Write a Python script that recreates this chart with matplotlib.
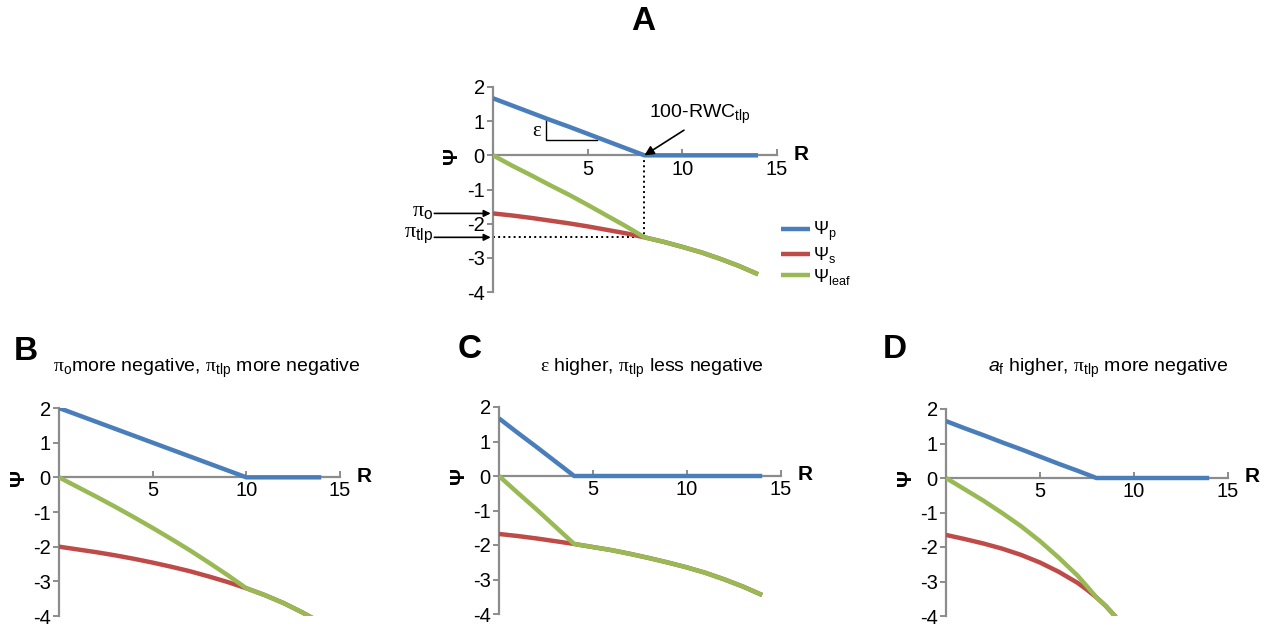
import matplotlib
matplotlib.use('Agg')
import matplotlib.pyplot as plt
from matplotlib import transforms

plt.rcParams['font.family'] = ['Liberation Sans', 'DejaVu Sans']
plt.rcParams['mathtext.fontset'] = 'custom'
plt.rcParams['mathtext.rm'] = 'Liberation Serif'
plt.rcParams['mathtext.sf'] = 'Liberation Sans'
plt.rcParams['mathtext.it'] = 'Liberation Sans:italic'
plt.rcParams['axes.unicode_minus'] = False

# R = 100 - RWC
r = [0, 1, 2, 3, 4, 5, 6, 7, 8, 9, 10, 11, 12, 13, 14]

# panel A
psi_p_a = [1.67, 1.46, 1.25, 1.04, 0.84, 0.63, 0.42, 0.21, 0.0, 0, 0, 0, 0, 0, 0]
psi_s_a = [-1.70, -1.76, -1.83, -1.91, -1.99, -2.08, -2.18, -2.28, -2.40, -2.53, -2.68, -2.84, -3.03, -3.24, -3.48]
psi_leaf_a = [0.0, -0.30, -0.58, -0.87, -1.15, -1.45, -1.76, -2.07, -2.40, -2.53, -2.68, -2.84, -3.03, -3.24, -3.48]
r_tlp_a = 8
pi_o_a = -1.70
pi_tlp_a = -2.40

# panel B
psi_p_b = [2.0, 1.8, 1.6, 1.4, 1.2, 1.0, 0.8, 0.6, 0.4, 0.2, 0.0, 0, 0, 0, 0]
psi_s_b = [-2.00, -2.08, -2.16, -2.25, -2.35, -2.46, -2.58, -2.71, -2.86, -3.02, -3.20, -3.40, -3.63, -3.90, -4.20]
psi_leaf_b = [0.0, -0.28, -0.56, -0.85, -1.15, -1.46, -1.78, -2.11, -2.46, -2.82, -3.20, -3.40, -3.63, -3.90, -4.20]

# panel C
psi_p_c = [1.67, 1.25, 0.84, 0.42, 0.0, 0, 0, 0, 0, 0, 0, 0, 0, 0, 0]
psi_s_c = [-1.68, -1.74, -1.81, -1.89, -1.97, -2.06, -2.15, -2.26, -2.38, -2.51, -2.65, -2.81, -3.00, -3.21, -3.45]
psi_leaf_c = [0.0, -0.49, -0.97, -1.47, -1.97, -2.06, -2.15, -2.26, -2.38, -2.51, -2.65, -2.81, -3.00, -3.21, -3.45]

# panel D
psi_p_d = [1.65, 1.44, 1.24, 1.03, 0.83, 0.62, 0.41, 0.21, 0.0, 0, 0, 0, 0, 0, 0]
r_d = [0, 1, 2, 3, 4, 5, 6, 7, 7.5, 8, 8.5, 9, 10]
psi_s_d = [-1.65, -1.77, -1.90, -2.05, -2.23, -2.45, -2.72, -3.04, -3.24, -3.46, -3.71, -4.01, -4.76]
psi_leaf_d = [0.0, -0.33, -0.66, -1.02, -1.40, -1.83, -2.31, -2.83, -3.14, -3.46, -3.71, -4.01, -4.76]

blue = '#4A7EBB'
red = '#BE4B48'
green = '#98B954'
grey = '#8C8C8C'

fig = plt.figure(figsize=(12.7, 6.29), dpi=100)

W, H = 1270.0, 629.0
def add_ax(x0, x1, ytop, ybot):
    return fig.add_axes([x0 / W, 1 - ybot / H, (x1 - x0) / W, (ybot - ytop) / H])

ax_a = add_ax(493, 777, 87, 292)
ax_b = add_ax(59, 340, 408, 616)
ax_c = add_ax(499, 781, 407, 614)
ax_d = add_ax(946, 1228, 409, 616)

def style(ax):
    ax.set_xlim(0, 15)
    ax.set_ylim(-4, 2)
    ax.spines['top'].set_visible(False)
    ax.spines['right'].set_visible(False)
    ax.spines['bottom'].set_position(('data', 0))
    for s in ['left', 'bottom']:
        ax.spines[s].set_color(grey)
        ax.spines[s].set_linewidth(1.6)
    ax.set_xticks([5, 10, 15])
    ax.set_yticks([-4, -3, -2, -1, 0, 1, 2])
    ax.tick_params(axis='x', direction='in', length=4, width=1.4, color=grey, pad=3, labelsize=14.5)
    ax.tick_params(axis='y', direction='out', length=4, width=1.4, color=grey, pad=2, labelsize=14.5)
    ax.patch.set_visible(False)
    tr = transforms.blended_transform_factory(ax.transAxes, ax.transData)
    ax.text(-0.145, 0, 'Ψ', transform=tr, rotation=90, ha='center', va='center',
            fontsize=15, fontweight='bold')
    ax.text(1.085, 0.03, 'R', transform=tr, ha='center', va='center',
            fontsize=15, fontweight='bold')

def draw(ax, rp, p, rs, s, leaf):
    l1, = ax.plot(rp, p, color=blue, lw=3.2, solid_capstyle='butt', zorder=3)
    l2, = ax.plot(rs, s, color=red, lw=3.2, solid_capstyle='butt', zorder=3)
    l3, = ax.plot(rs, leaf, color=green, lw=3.2, solid_capstyle='butt', zorder=4)
    return l1, l2, l3

for ax in [ax_a, ax_b, ax_c, ax_d]:
    style(ax)

handles = draw(ax_a, r, psi_p_a, r, psi_s_a, psi_leaf_a)
draw(ax_b, r, psi_p_b, r, psi_s_b, psi_leaf_b)
draw(ax_c, r, psi_p_c, r, psi_s_c, psi_leaf_c)
draw(ax_d, r, psi_p_d, r_d, psi_s_d, psi_leaf_d)

# panel A annotations
ax_a.plot([r_tlp_a, r_tlp_a], [0, pi_tlp_a], color='black', ls=':', lw=1.4, zorder=2)
ax_a.plot([0, r_tlp_a], [pi_tlp_a, pi_tlp_a], color='black', ls=':', lw=1.4, zorder=2)
ax_a.plot([2.8, 2.8, 5.5], [1.03, 0.46, 0.46], color='black', lw=1.0, zorder=2)
ax_a.text(2.35, 0.72, r'$\mathrm{\varepsilon}$', fontsize=15, ha='center', va='center')
ax_a.annotate(r'100-RWC$_{\mathsf{tlp}}$', xy=(r_tlp_a, 0), xytext=(10.9, 1.2),
              fontsize=14, ha='center', va='center',
              arrowprops=dict(arrowstyle='-|>', color='black', lw=1.2,
                              shrinkA=2, shrinkB=0, relpos=(0.45, 0.1)))
for yv, lab in [(pi_o_a, r'$\mathrm{\pi}_{\mathsf{o}}$'), (pi_tlp_a, r'$\mathrm{\pi}_{\mathsf{tlp}}$')]:
    ax_a.annotate('', xy=(-0.12, yv), xytext=(-3.1, yv), annotation_clip=False,
                  arrowprops=dict(arrowstyle='-|>', color='black', lw=1.2,
                                  shrinkA=0, shrinkB=0))
    ax_a.text(-3.15, yv + 0.05, lab, fontsize=16, ha='right', va='center', clip_on=False)

fig.legend(handles, ['Ψ$_{\\mathsf{p}}$', 'Ψ$_{\\mathsf{s}}$', 'Ψ$_{\\mathsf{leaf}}$'],
           loc='upper left', bbox_to_anchor=(781 / W, 1 - 220 / H), frameon=False,
           fontsize=13, handlelength=1.6, handletextpad=0.15, labelspacing=0.1,
           borderpad=0, borderaxespad=0)

# panel letters and titles
fig.text(643 / W, 1 - 21 / H, 'A', fontsize=24, fontweight='bold', ha='center', va='center')
fig.text(26 / W, 1 - 352 / H, 'B', fontsize=24, fontweight='bold', ha='center', va='center')
fig.text(470 / W, 1 - 350 / H, 'C', fontsize=24, fontweight='bold', ha='center', va='center')
fig.text(895 / W, 1 - 350 / H, 'D', fontsize=24, fontweight='bold', ha='center', va='center')

fig.text(207 / W, 1 - 372 / H, r'$\mathrm{\pi}_{\mathsf{o}}$more negative, $\mathrm{\pi}_{\mathsf{tlp}}$ more negative',
         fontsize=14, ha='center', va='baseline')
fig.text(652 / W, 1 - 372 / H, r'$\mathrm{\varepsilon}$ higher, $\mathrm{\pi}_{\mathsf{tlp}}$ less negative',
         fontsize=14, ha='center', va='baseline')
fig.text(1108 / W, 1 - 372 / H, r'$\mathit{a}_{\mathsf{f}}$ higher, $\mathrm{\pi}_{\mathsf{tlp}}$ more negative',
         fontsize=14, ha='center', va='baseline')

fig.savefig('out.png', dpi=100)
